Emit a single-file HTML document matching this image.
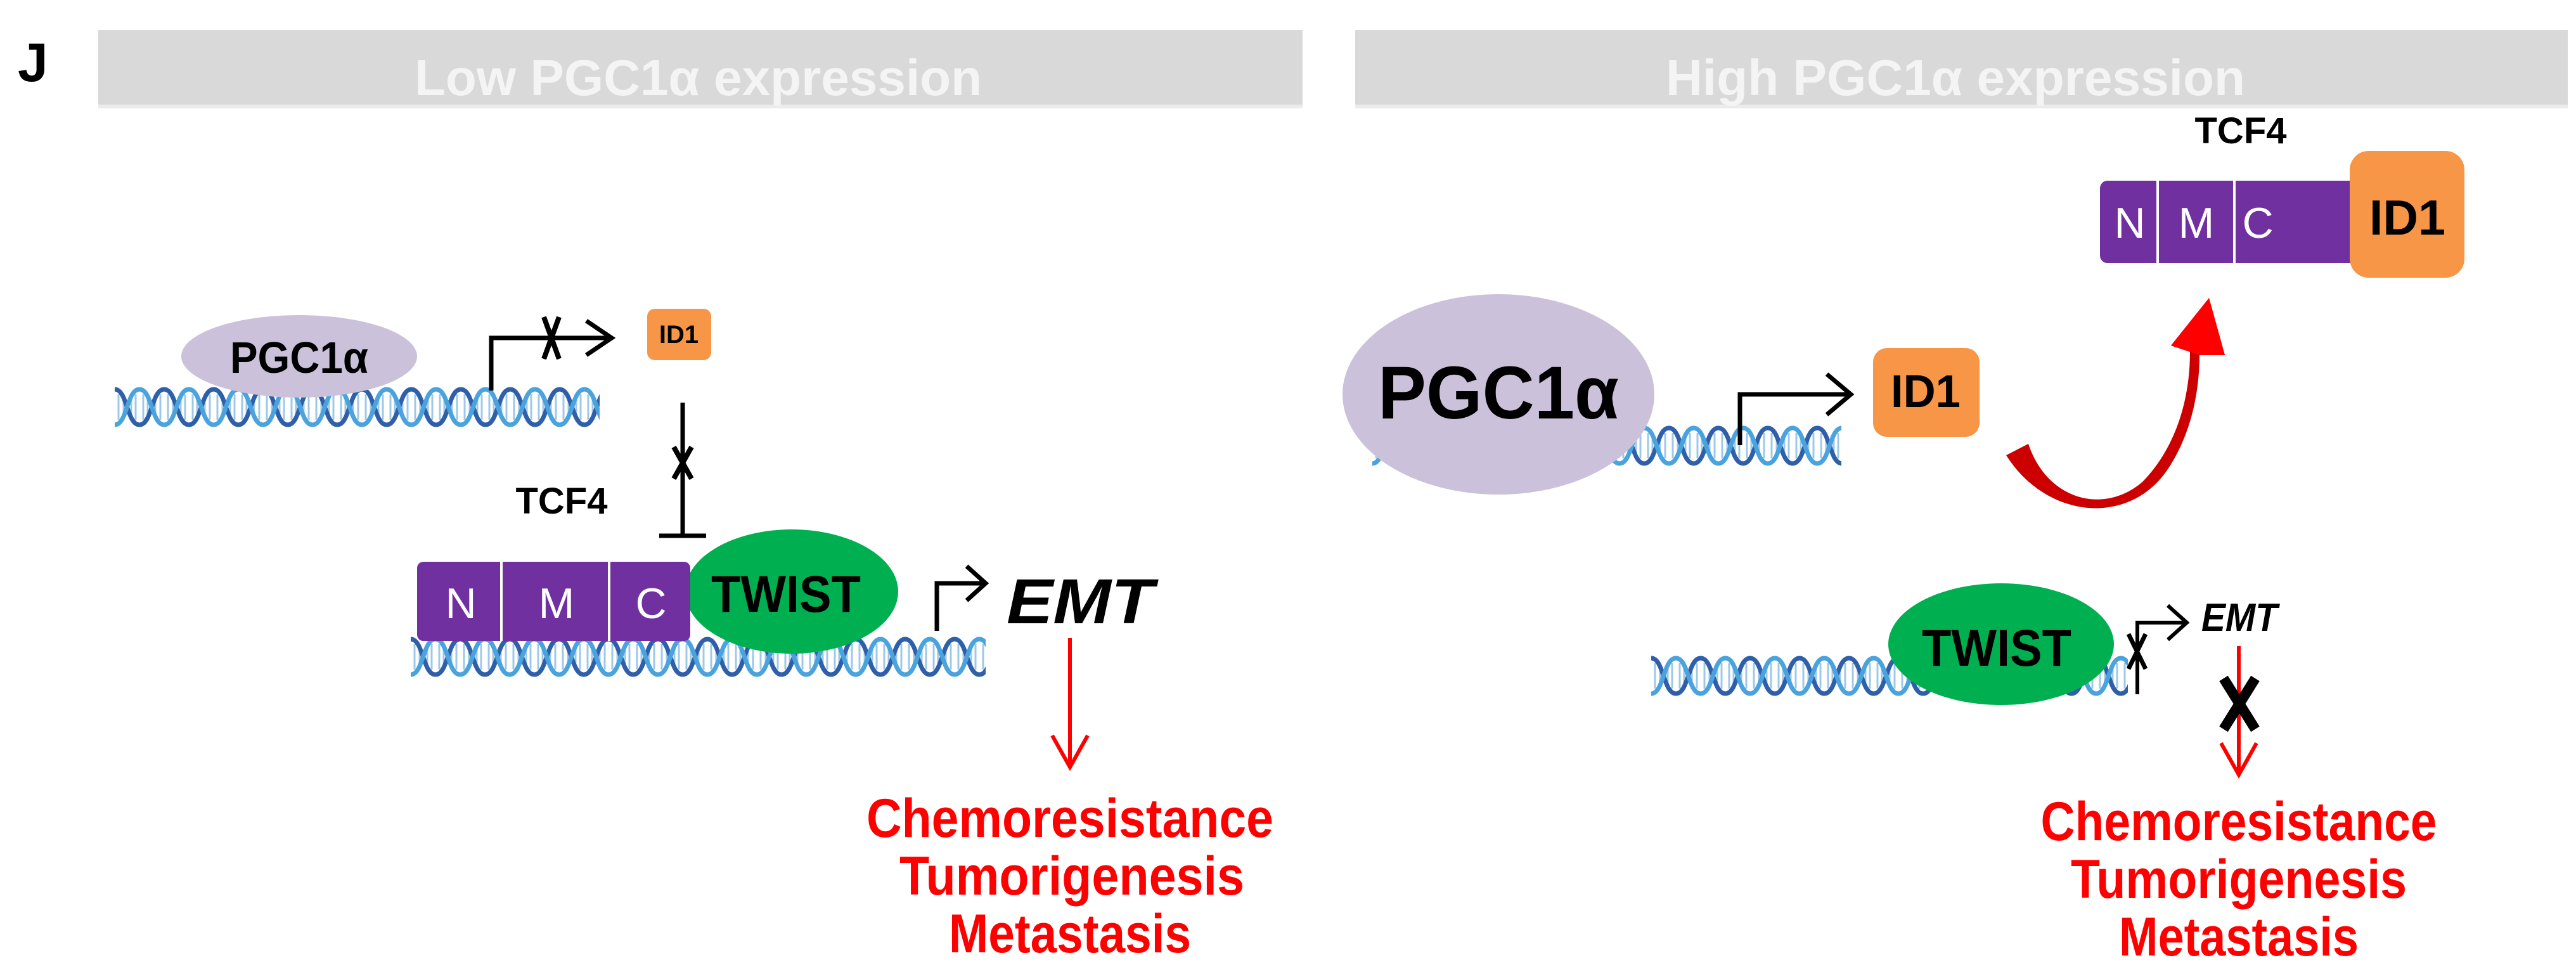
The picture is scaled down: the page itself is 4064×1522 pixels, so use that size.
<!DOCTYPE html>
<html><head><meta charset="utf-8"><style>
html,body{margin:0;padding:0;background:#fff}
svg{display:block}
text{font-family:"Liberation Sans Narrow","Liberation Sans",sans-serif;font-weight:bold}
text.n{font-weight:normal}
</style></head><body>
<svg width="4064" height="1522" viewBox="0 0 4064 1522" xmlns="http://www.w3.org/2000/svg">
<defs>
<pattern id="dna" patternUnits="userSpaceOnUse" width="78" height="76">
<g stroke="#9dc8e8" stroke-width="3">
<line x1="6" y1="18" x2="6" y2="58"/><line x1="14" y1="26" x2="14" y2="50"/><line x1="26" y1="26" x2="26" y2="50"/><line x1="33" y1="18" x2="33" y2="58"/>
<line x1="45" y1="18" x2="45" y2="58"/><line x1="52" y1="26" x2="52" y2="50"/><line x1="64" y1="26" x2="64" y2="50"/><line x1="72" y1="18" x2="72" y2="58"/>
</g>
<path d="M0,10 C20,10 19,66 39,66 C59,66 58,10 78,10" fill="none" stroke="#2f5fa8" stroke-width="7"/>
<path d="M0,66 C20,66 19,10 39,10 C59,10 58,66 78,66" fill="none" stroke="#4aa3dc" stroke-width="7"/>
</pattern>
</defs>

<text x="28" y="128" font-size="86" fill="#000" font-family="Liberation Sans">J</text>

<rect x="155" y="47" width="1900" height="124" fill="#d9d9d9"/>
<rect x="155" y="165" width="1900" height="6" fill="#ececec"/>
<text x="654" y="150" font-size="80" fill="#f4f4f4" textLength="895" lengthAdjust="spacingAndGlyphs">Low PGC1α expression</text>
<rect x="2138" y="47" width="1913" height="124" fill="#d9d9d9"/>
<rect x="2138" y="165" width="1913" height="6" fill="#ececec"/>
<text x="2628" y="150" font-size="80" fill="#f4f4f4" textLength="914" lengthAdjust="spacingAndGlyphs">High PGC1α expression</text>

<!-- LEFT PANEL -->
<g transform="translate(181,604)"><rect width="765" height="76" fill="url(#dna)"/></g>
<ellipse cx="472" cy="562" rx="186" ry="65" fill="#ccc1da"/>
<text x="472" y="588" font-size="70" text-anchor="middle" fill="#000" textLength="218" lengthAdjust="spacingAndGlyphs">PGC1α</text>
<path d="M775,616 V533 H960" fill="none" stroke="#000" stroke-width="7"/>
<path d="M925,506 L965,533 L925,560" fill="none" stroke="#000" stroke-width="7"/>
<path d="M858,500 L882,566 M882,500 L858,566" stroke="#000" stroke-width="8"/>
<rect x="1021" y="487" width="101" height="81" rx="12" fill="#f79646"/>
<text x="1071" y="541" font-size="40" text-anchor="middle" fill="#000">ID1</text>
<path d="M1077,635 V845 M1040,845 H1114" stroke="#000" stroke-width="7" fill="none"/>
<path d="M1063,705 L1091,755 M1091,705 L1063,755" stroke="#000" stroke-width="8"/>

<text x="886" y="810" font-size="58" text-anchor="middle" fill="#000">TCF4</text>
<g transform="translate(648,998)"><rect width="907" height="72" fill="url(#dna)"/></g>
<ellipse cx="1249" cy="933" rx="168" ry="98" fill="#00b050"/>
<rect x="658" y="886" width="431" height="125" rx="10" fill="#7030a0"/>
<line x1="791" y1="886" x2="791" y2="1011" stroke="#fff" stroke-width="4"/>
<line x1="961" y1="886" x2="961" y2="1011" stroke="#fff" stroke-width="4"/>
<text class="n" x="727" y="975" font-size="68" text-anchor="middle" fill="#fff">N</text>
<text class="n" x="878" y="975" font-size="68" text-anchor="middle" fill="#fff">M</text>
<text class="n" x="1027" y="975" font-size="68" text-anchor="middle" fill="#fff">C</text>
<text x="1240" y="965" font-size="82" text-anchor="middle" fill="#000" textLength="236" lengthAdjust="spacingAndGlyphs">TWIST</text>
<path d="M1478,995 V920 H1552" fill="none" stroke="#000" stroke-width="7"/>
<path d="M1525,893 L1555,920 L1525,947" fill="none" stroke="#000" stroke-width="7"/>
<text x="1588" y="983" font-size="100" font-style="italic" fill="#000" textLength="232" lengthAdjust="spacingAndGlyphs">EMT</text>
<line x1="1688" y1="1006" x2="1688" y2="1205" stroke="#ff0000" stroke-width="6"/>
<path d="M1660,1160 L1688,1210 L1716,1160" fill="none" stroke="#ff0000" stroke-width="6"/>
<g fill="#ff0000" font-size="86" text-anchor="middle">
<text x="1688" y="1320" textLength="642" lengthAdjust="spacingAndGlyphs">Chemoresistance</text>
<text x="1691" y="1411" textLength="544" lengthAdjust="spacingAndGlyphs">Tumorigenesis</text>
<text x="1688" y="1502" textLength="382" lengthAdjust="spacingAndGlyphs">Metastasis</text>
</g>

<!-- RIGHT PANEL -->
<g transform="translate(2165,665)"><rect width="740" height="72" fill="url(#dna)"/></g>
<ellipse cx="2364" cy="622" rx="246" ry="158" fill="#ccc1da"/>
<text x="2364" y="660" font-size="118" text-anchor="middle" fill="#000" textLength="380" lengthAdjust="spacingAndGlyphs">PGC1α</text>
<path d="M2745,702 V622 H2920" fill="none" stroke="#000" stroke-width="7"/>
<path d="M2882,590 L2920,622 L2882,654" fill="none" stroke="#000" stroke-width="7"/>
<rect x="2955" y="549" width="168" height="140" rx="22" fill="#f79646"/>
<text x="3038" y="642" font-size="72" text-anchor="middle" fill="#000" textLength="110" lengthAdjust="spacingAndGlyphs">ID1</text>
<path d="M3165,718 C3230,820 3360,830 3420,740 C3460,680 3470,610 3470,560 L3510,560 L3485,470 L3425,545 L3455,555 C3455,650 3420,720 3380,760 C3320,812 3230,790 3200,700 Z" fill="#cc0000"/>
<path d="M3470,560 L3510,560 L3485,470 L3425,545 Z" fill="#ff0000"/>

<text x="3535" y="226" font-size="58" text-anchor="middle" fill="#000">TCF4</text>
<rect x="3313" y="285" width="420" height="130" rx="12" fill="#7030a0"/>
<line x1="3404" y1="285" x2="3404" y2="415" stroke="#fff" stroke-width="4"/>
<line x1="3525" y1="285" x2="3525" y2="415" stroke="#fff" stroke-width="4"/>
<text class="n" x="3360" y="375" font-size="68" text-anchor="middle" fill="#fff">N</text>
<text class="n" x="3465" y="375" font-size="68" text-anchor="middle" fill="#fff">M</text>
<text class="n" x="3562" y="375" font-size="68" text-anchor="middle" fill="#fff">C</text>
<rect x="3707" y="238" width="181" height="200" rx="30" fill="#f79646"/>
<text x="3798" y="370" font-size="78" text-anchor="middle" fill="#000" textLength="120" lengthAdjust="spacingAndGlyphs">ID1</text>

<g transform="translate(2605,1028)"><rect width="752" height="74" fill="url(#dna)"/></g>
<ellipse cx="3157" cy="1016" rx="178" ry="96" fill="#00b050"/>
<text x="3150" y="1050" font-size="82" text-anchor="middle" fill="#000" textLength="236" lengthAdjust="spacingAndGlyphs">TWIST</text>
<path d="M3372,1095 V982 H3450" fill="none" stroke="#000" stroke-width="6"/>
<path d="M3420,955 L3450,982 L3420,1009" fill="none" stroke="#000" stroke-width="6"/>
<path d="M3358,1000 L3385,1055 M3385,1000 L3358,1055" stroke="#000" stroke-width="7"/>
<text x="3473" y="995" font-size="62" font-style="italic" fill="#000" textLength="120" lengthAdjust="spacingAndGlyphs">EMT</text>
<line x1="3532" y1="1019" x2="3532" y2="1218" stroke="#ff0000" stroke-width="6"/>
<path d="M3504,1172 L3532,1222 L3560,1172" fill="none" stroke="#ff0000" stroke-width="6"/>
<path d="M3508,1070 L3558,1150 M3558,1070 L3508,1150" stroke="#000" stroke-width="16"/>
<g fill="#ff0000" font-size="86" text-anchor="middle">
<text x="3532" y="1325" textLength="625" lengthAdjust="spacingAndGlyphs">Chemoresistance</text>
<text x="3532" y="1416" textLength="530" lengthAdjust="spacingAndGlyphs">Tumorigenesis</text>
<text x="3532" y="1507" textLength="378" lengthAdjust="spacingAndGlyphs">Metastasis</text>
</g>
</svg>
</body></html>
